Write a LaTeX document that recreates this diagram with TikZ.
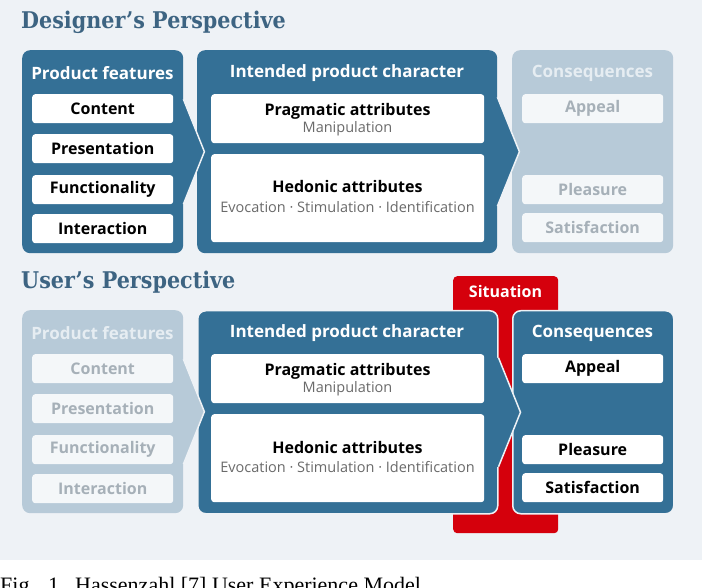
\documentclass[tikz,border=0pt]{standalone}
\usepackage{fontspec}
\usepackage{graphicx}
\setmainfont{Open Sans}
\newfontfamily\ttlfamily{DejaVu Serif}
\newfontfamily\capfamily{Liberation Serif}
\usetikzlibrary{calc}
\definecolor{bgc}{HTML}{EEF2F6}
\definecolor{pblue}{HTML}{347096}
\definecolor{plight}{HTML}{B7CAD8}
\definecolor{ttlc}{HTML}{3D6482}
\definecolor{sitred}{HTML}{D5000C}
\definecolor{subgray}{HTML}{6A6A6A}
\definecolor{fadefill}{HTML}{F4F7F9}
\definecolor{fadetext}{HTML}{A6B0B8}
\definecolor{fadehead}{HTML}{E6EDF2}
\newcommand\headfnt{\fontsize{17pt}{20pt}\selectfont\bfseries}
\newcommand\itemfnt{\fontsize{16pt}{19pt}\selectfont\bfseries}
\newcommand\subfnt{\fontsize{14.5pt}{17pt}\selectfont}
\newcommand\ttlfnt{\ttlfamily\fontsize{23pt}{27pt}\selectfont\bfseries}
\begin{document}
\begin{tikzpicture}[x=1pt,y=-1pt,
  darkpanel/.style={fill=pblue, rounded corners=8pt, minimum height=203pt, inner sep=0pt, anchor=north west},
  lightpanel/.style={darkpanel, fill=plight},
  outlined/.style={draw=bgc, line width=1.5pt},
  sep/.style={draw=bgc, line width=1.5pt, line join=miter},
  item/.style={fill=white, rounded corners=3pt, minimum width=141pt, minimum height=29pt, inner sep=0pt, anchor=north west, font=\itemfnt, text=black},
  fadeditem/.style={item, fill=fadefill, text=fadetext},
  attrbox/.style={fill=white, rounded corners=3pt, minimum width=273pt, inner sep=0pt, anchor=north west},
  head/.style={font=\headfnt, text=white, inner sep=0pt},
  fadedhead/.style={head, text=fadehead},
  attr/.style={font=\itemfnt, text=black, inner sep=0pt},
  sub/.style={font=\subfnt, text=subgray, inner sep=0pt},
  ttl/.style={font=\ttlfnt, text=ttlc, inner sep=0pt, anchor=base west},
  capt/.style={inner sep=0pt, anchor=base west, font=\capfamily\fontsize{22pt}{26pt}\selectfont},
  redbar/.style={fill=sitred, rounded corners=4pt, inner sep=0pt, anchor=north west}
]
\useasboundingbox (0,0) rectangle (702,588);
\clip (0,0) rectangle (702,588);
\fill[white] (0,0) rectangle (702,588);
\fill[bgc] (0,0) rectangle (702,560);

% ---------------- Designer's perspective ----------------
\node[ttl] (t1) at (21,29) {\scalebox{0.9}[1]{Designer’s Perspective}};

\node[darkpanel, minimum width=161pt] (pf1) at (22,50) {};
\node[darkpanel, minimum width=300pt] (ipc1) at (197,50) {};
\node[lightpanel, minimum width=161pt] (cq1) at (512,50) {};

% arrows
\fill[pblue] ([xshift=-3pt,yshift=52.5pt]pf1.east) -- ([yshift=52.5pt]pf1.east) -- ([xshift=21pt]pf1.east) -- ([yshift=-52.5pt]pf1.east) -- ([xshift=-3pt,yshift=-52.5pt]pf1.east) -- cycle;
\draw[sep] ([yshift=52.5pt]pf1.east) -- ([xshift=21pt]pf1.east) -- ([yshift=-52.5pt]pf1.east);
\fill[pblue] ([xshift=-3pt,yshift=54.5pt]ipc1.east) -- ([yshift=54.5pt]ipc1.east) -- ([xshift=22pt]ipc1.east) -- ([yshift=-54.5pt]ipc1.east) -- ([xshift=-3pt,yshift=-54.5pt]ipc1.east) -- cycle;
\draw[sep] ([yshift=54.5pt]ipc1.east) -- ([xshift=22pt]ipc1.east) -- ([yshift=-54.5pt]ipc1.east);

\node[head] (pf1h) at (102.5,73) {Product features};
\node[item] (c1) at (32,94) {Content};
\node[item] (p1) at (32,134) {Presentation};
\node[item] (f1) at (32,175) {Functionality};
\node[item] (i1) at (32,214) {Interaction};

\node[head] (ipc1h) at (347,73) {Intended product character};
\node[attrbox, minimum height=49pt] (pr1) at (211,94) {};
\node[attr] (pr1t) at (347.5,111) {Pragmatic attributes};
\node[sub] (pr1s) at (347.5,129) {Manipulation};
\node[attrbox, minimum height=88pt] (he1) at (211,154) {};
\node[attr] (he1t) at (347.5,187) {Hedonic attributes};
\node[sub] (he1s) at (347.5,207) {Evocation · Stimulation · Identification};

\node[fadedhead] (cq1h) at (592.5,73) {Consequences};
\node[fadeditem] (ap1) at (522,94) {Appeal};
\node[fadeditem] (pl1) at (522,175) {Pleasure};
\node[fadeditem] (sa1) at (522,213) {Satisfaction};

% ---------------- User's perspective ----------------
\node[ttl] (t2) at (21,289) {\scalebox{0.9}[1]{User’s Perspective}};

\node[redbar, minimum width=105pt, minimum height=257pt] (sit) at (453,276) {};
\node[head, font=\fontsize{16pt}{18pt}\selectfont\bfseries] (sitt) at (505.5,292) {Situation};

\node[lightpanel, minimum width=161pt] (pf2) at (22,310) {};
\node[darkpanel, outlined, minimum width=300pt] (ipc2) at (197,310) {};
\node[darkpanel, outlined, minimum width=161pt] (cq2) at (512,310) {};

\fill[plight] ([xshift=-3pt,yshift=52.5pt]pf2.east) -- ([yshift=52.5pt]pf2.east) -- ([xshift=21pt]pf2.east) -- ([yshift=-52.5pt]pf2.east) -- ([xshift=-3pt,yshift=-52.5pt]pf2.east) -- cycle;
\draw[sep] ([yshift=52.5pt]pf2.east) -- ([xshift=21pt]pf2.east) -- ([yshift=-52.5pt]pf2.east);
\fill[pblue] ([xshift=-3pt,yshift=54.5pt]ipc2.east) -- ([yshift=54.5pt]ipc2.east) -- ([xshift=22pt]ipc2.east) -- ([yshift=-54.5pt]ipc2.east) -- ([xshift=-3pt,yshift=-54.5pt]ipc2.east) -- cycle;
\draw[sep] ([yshift=54.5pt]ipc2.east) -- ([xshift=22pt]ipc2.east) -- ([yshift=-54.5pt]ipc2.east);

\node[fadedhead] (pf2h) at (102.5,333) {Product features};
\node[fadeditem] (c2) at (32,354) {Content};
\node[fadeditem] (p2) at (32,394) {Presentation};
\node[fadeditem] (f2) at (32,435) {Functionality};
\node[fadeditem] (i2) at (32,474) {Interaction};

\node[head] (ipc2h) at (347,333) {Intended product character};
\node[attrbox, minimum height=49pt] (pr2) at (211,354) {};
\node[attr] (pr2t) at (347.5,371) {Pragmatic attributes};
\node[sub] (pr2s) at (347.5,389) {Manipulation};
\node[attrbox, minimum height=88pt] (he2) at (211,414) {};
\node[attr] (he2t) at (347.5,447) {Hedonic attributes};
\node[sub] (he2s) at (347.5,467) {Evocation · Stimulation · Identification};

\node[head] (cq2h) at (592.5,333) {Consequences};
\node[item] (ap2) at (522,354) {Appeal};
\node[item] (pl2) at (522,435) {Pleasure};
\node[item] (sa2) at (522,473) {Satisfaction};

% caption (cut off at the bottom edge, as in the reference)
\node[capt] (cap1) at (0,592) {Fig.\hspace{13pt}1};
\node[capt] (cap2) at (75,592) {Hassenzahl [7] User Experience Model};
\end{tikzpicture}
\end{document}
